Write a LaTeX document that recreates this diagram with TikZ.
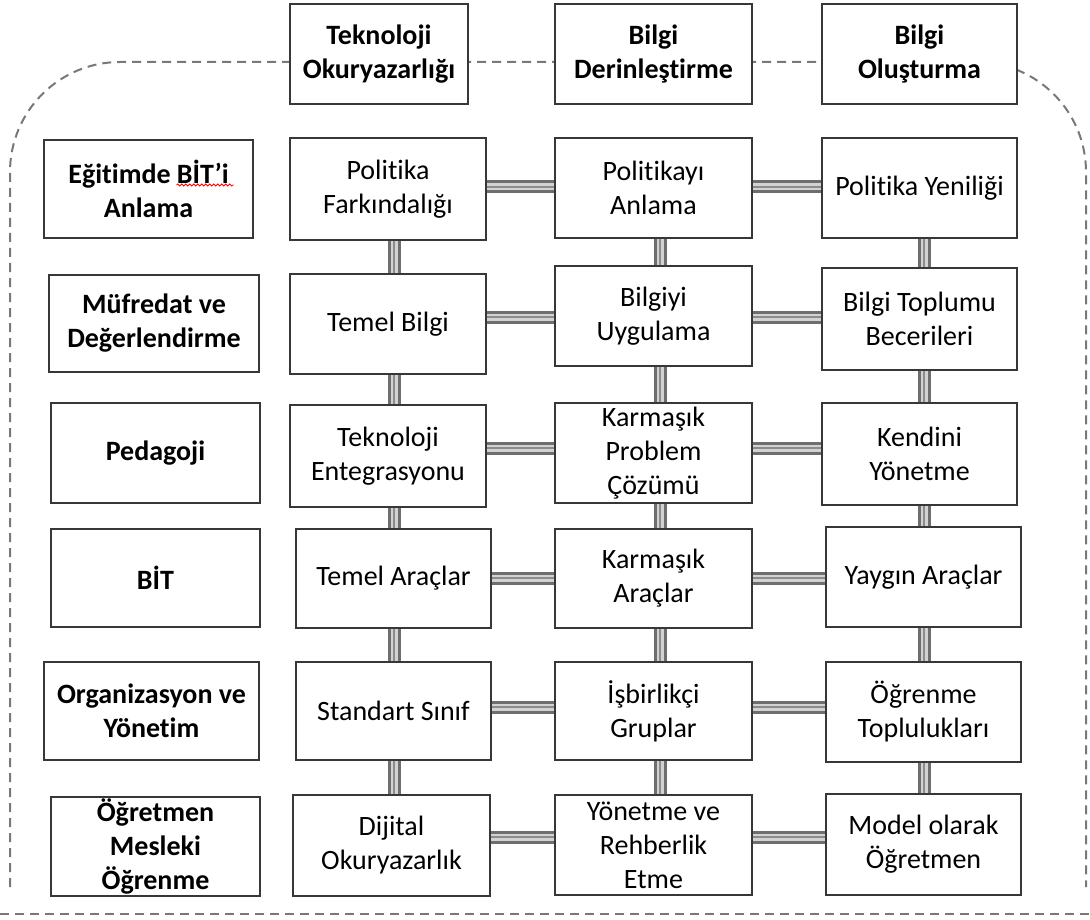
\documentclass[tikz,border=0pt]{standalone}
\usepackage{fontspec}
\setmainfont{Carlito}[Ligatures=NoCommon]
\usetikzlibrary{calc,backgrounds,decorations.pathmorphing}
\definecolor{pipedark}{RGB}{110,110,110}
\definecolor{pipelight}{RGB}{210,210,210}
\definecolor{pipemid}{RGB}{140,140,140}
\definecolor{framegray}{RGB}{120,120,120}
\definecolor{boxline}{RGB}{55,55,55}
\tikzset{
  box/.style={draw=boxline, line width=1.4pt, fill=white, align=center, inner sep=0pt,
    font=\fontsize{28}{34}\selectfont},
  hbox/.style={box, font=\fontsize{28}{34}\selectfont\bfseries},
  pipe/.style={draw=pipedark, line width=3pt, double=pipelight, double distance=7pt,
    postaction={draw=pipemid, line width=2.6pt}},
  frame/.style={draw=framegray, line width=2pt, dash pattern=on 9pt off 6pt},
  squig/.style={draw=red, line width=0.8pt, decorate,
    decoration={snake, amplitude=1pt, segment length=4pt}}
}
\begin{document}
\begin{tikzpicture}[x=1pt, y=-1pt]
\useasboundingbox (0,0) rectangle (1090,920);
% headers
\node[hbox, minimum width=178pt, minimum height=100pt] (tA) at (379,54) {Teknoloji\\Okuryazarlığı};
\node[hbox, minimum width=197pt, minimum height=100pt] (tB) at (653.5,54) {Bilgi\\Derinleştirme};
\node[hbox, minimum width=195pt, minimum height=100pt] (tC) at (919.5,54) {Bilgi\\Oluşturma};
% row labels
\node[hbox, minimum width=209pt, minimum height=98pt] (l1) at (148.5,189) {Eğitimde BİT’i\\Anlama};
\node[hbox, minimum width=210pt, minimum height=97pt] (l2) at (154,323.5) {Müfredat ve\\Değerlendirme};
\node[hbox, minimum width=209pt, minimum height=100pt] (l3) at (155.5,453) {Pedagoji};
\node[hbox, minimum width=209pt, minimum height=98pt] (l4) at (155.5,578) {BİT};
\node[hbox, minimum width=215pt, minimum height=98pt] (l5) at (151.5,711) {Organizasyon ve\\Yönetim};
\node[hbox, minimum width=209pt, minimum height=99pt] (l6) at (155.5,846.5) {Öğretmen\\Mesleki\\Öğrenme};
% column A
\node[box, minimum width=196pt, minimum height=102pt] (a1) at (388,189) {Politika\\Farkındalığı};
\node[box, minimum width=196pt, minimum height=100pt] (a2) at (388,324) {Temel Bilgi};
\node[box, minimum width=196pt, minimum height=102pt] (a3) at (388,456) {Teknoloji\\Entegrasyonu};
\node[box, minimum width=195pt, minimum height=99pt] (a4) at (393.5,578.5) {Temel Araçlar};
\node[box, minimum width=195pt, minimum height=98pt] (a5) at (393.5,711) {Standart Sınıf};
\node[box, minimum width=197pt, minimum height=101pt] (a6) at (391.5,845.5) {Dijital\\Okuryazarlık};
% column B
\node[box, minimum width=197pt, minimum height=100pt] (b1) at (653.5,188) {Politikayı\\Anlama};
\node[box, minimum width=197pt, minimum height=100pt] (b2) at (653.5,316) {Bilgiyi\\Uygulama};
\node[box, minimum width=197pt, minimum height=100pt] (b3) at (653.5,453) {Karmaşık\\Problem\\Çözümü};
\node[box, minimum width=197pt, minimum height=99pt] (b4) at (653.5,578.5) {Karmaşık\\Araçlar};
\node[box, minimum width=197pt, minimum height=98pt] (b5) at (653.5,711) {İşbirlikçi\\Gruplar};
\node[box, minimum width=197pt, minimum height=100pt] (b6) at (653.5,845) {Yönetme ve\\Rehberlik\\Etme};
% column C
\node[box, minimum width=195pt, minimum height=100pt] (c1) at (919.5,188) {Politika Yeniliği};
\node[box, minimum width=195pt, minimum height=102pt] (c2) at (919.5,319) {Bilgi Toplumu\\Becerileri};
\node[box, minimum width=195pt, minimum height=102pt] (c3) at (919.5,454) {Kendini\\Yönetme};
\node[box, minimum width=195pt, minimum height=100pt] (c4) at (923.5,577) {Yaygın Araçlar};
\node[box, minimum width=195pt, minimum height=100pt] (c5) at (923.5,712) {Öğrenme\\Toplulukları};
\node[box, minimum width=195pt, minimum height=101pt] (c6) at (923.5,844.5) {Model olarak\\Öğretmen};
% spell-check squiggle
\draw[squig] ($(l1.center)+(28,-4)$) -- ($(l1.center)+(85,-4)$);
% pipe guide coordinates
\coordinate (h1) at (0,187);
\coordinate (h2) at (0,317);
\coordinate (h3) at (0,448);
\coordinate (h4) at (0,578);
\coordinate (h5) at (0,707);
\coordinate (h6) at (0,837);
\coordinate (vA) at (394,0);
\coordinate (vB) at (660,0);
\coordinate (vC) at (924,0);
\begin{scope}[on background layer]
  \draw[frame, rounded corners=110pt] (10,887) -- (10,62) -- (1086,62) -- (1086,887);
  \draw[frame] (0,914) -- (1090,914);
  \foreach \r in {1,...,6}{
    \draw[pipe] (a\r.east |- h\r) -- (b\r.west |- h\r);
    \draw[pipe] (b\r.east |- h\r) -- (c\r.west |- h\r);
  }
  \foreach \r/\s in {1/2,2/3,3/4,4/5,5/6}{
    \draw[pipe] (vA |- a\r.south) -- (vA |- a\s.north);
    \draw[pipe] (vB |- b\r.south) -- (vB |- b\s.north);
    \draw[pipe] (vC |- c\r.south) -- (vC |- c\s.north);
  }
\end{scope}
\end{tikzpicture}
\end{document}
